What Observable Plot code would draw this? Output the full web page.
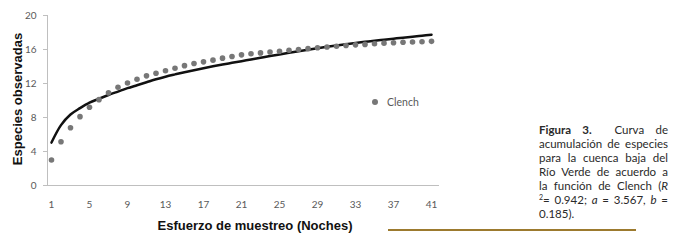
<!DOCTYPE html>
<html>
<head>
<meta charset="utf-8">
<script src="https://cdn.jsdelivr.net/npm/d3@7"></script>
<script src="https://cdn.jsdelivr.net/npm/@observablehq/plot@0.6"></script>
<style>
  html, body { margin: 0; padding: 0; background: #fff; }
  #wrap { position: relative; width: 678px; height: 241px; overflow: hidden; }
  #chart { position: absolute; left: 0; top: 0; }
  .ytitle { position: absolute; left: 17px; top: 99px; transform: translate(-50%, -50%) rotate(-90deg);
            font: bold 13px "Liberation Sans", Arial, sans-serif; color: #111; white-space: nowrap; }
  .xtitle { position: absolute; left: 255px; top: 225px; transform: translate(-50%, -50%);
            font: bold 13px "Liberation Sans", Arial, sans-serif; color: #111; white-space: nowrap; }
  .legend { position: absolute; left: 372px; top: 96px; font: 10.5px Lato, sans-serif; color: #595959; white-space: nowrap; }
  .legend .sw { display: inline-block; width: 6px; height: 6px; border-radius: 50%; background: #777; margin-right: 9px; vertical-align: 1px; }
  .caption { position: absolute; left: 539px; top: 123px; width: 129px; font: 11.5px Lato, sans-serif; color: #2a2a2a; line-height: 14px; }
  .caption div { height: 14px; text-align: justify; text-align-last: justify; white-space: nowrap; }
  .caption div.last { text-align-last: left; }
  .caption .sup { font-size: 7px; position: relative; top: -4px; }
  .rule { position: absolute; left: 388px; top: 229px; width: 248px; height: 2px; background: #9c7a2e; }
</style>
</head>
<body>
<div id="wrap">
  <div id="chart"></div>
  <div class="ytitle">Especies observadas</div>
  <div class="xtitle">Esfuerzo de muestreo (Noches)</div>
  <div class="legend"><span class="sw"></span>Clench</div>
  <div class="caption">
    <div><b>Figura 3.</b>&nbsp; Curva de</div>
    <div>acumulación de especies</div>
    <div>para la cuenca baja del</div>
    <div>Río Verde de acuerdo a</div>
    <div>la función de Clench (<i>R</i></div>
    <div><span class="sup">2</span>= 0.942; <i>a</i> = 3.567, <i>b</i> =</div>
    <div class="last">0.185).</div>
  </div>
  <div class="rule"></div>
</div>
<script>
const nights = [1,2,3,4,5,6,7,8,9,10,11,12,13,14,15,16,17,18,19,20,21,22,23,24,25,26,27,28,29,30,31,32,33,34,35,36,37,38,39,40,41];
const clench = [3.0,5.15,6.8,8.1,9.2,10.1,10.9,11.55,12.05,12.5,12.9,13.2,13.5,13.8,14.1,14.35,14.55,14.75,14.98,15.18,15.37,15.5,15.6,15.7,15.8,15.92,16.0,16.1,16.2,16.3,16.38,16.47,16.55,16.6,16.67,16.75,16.8,16.85,16.88,16.92,16.96];
const observed = [5.05,7.1,8.35,9.1,9.75,10.2,10.65,11.05,11.45,11.8,12.15,12.5,12.8,13.07,13.33,13.57,13.8,14.02,14.23,14.43,14.63,14.83,15.03,15.23,15.42,15.61,15.8,15.98,16.15,16.32,16.48,16.63,16.77,16.9,17.03,17.15,17.27,17.39,17.5,17.62,17.74];
const xTicks = [1,5,9,13,17,21,25,29,33,37,41];
const yTicks = [0,4,8,12,16,20];
const xDomain = [0.58, 41.84];

const rows = nights.map((n, i) => ({n, clench: clench[i], observed: observed[i]}));

const chart = Plot.plot({
  width: 450,
  height: 241,
  marginLeft: 47,
  marginRight: 11,
  marginTop: 15,
  marginBottom: 56,
  x: {domain: xDomain, label: null},
  y: {domain: [0, 20], label: null},
  style: {fontFamily: "Lato, sans-serif", fontSize: "10px", color: "#595959", background: "transparent"},
  marks: [
    Plot.axisY({ticks: yTicks, tickSize: 4, tickPadding: 7, stroke: "#bfbfbf", fill: "#595959", label: null}),
    Plot.axisX({ticks: xTicks, tickSize: 0, tickPadding: 15, fill: "#595959", label: null}),
    Plot.ruleX([xDomain[0]], {stroke: "#bfbfbf"}),
    Plot.ruleY([0], {stroke: "#bfbfbf"}),
    Plot.line(rows, {x: "n", y: "observed", stroke: "#111", strokeWidth: 2.5, curve: "catmull-rom"}),
    Plot.dot(rows, {x: "n", y: "clench", r: 2.8, fill: "#777", stroke: "none"})
  ]
});
document.getElementById("chart").appendChild(chart);
</script>
</body>
</html>
